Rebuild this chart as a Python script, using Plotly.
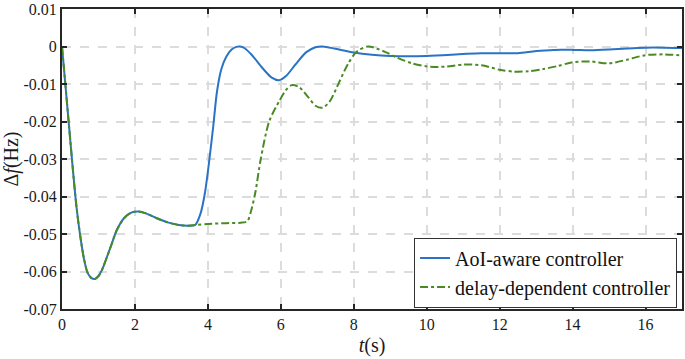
import plotly.graph_objects as go

# AoI-aware controller
t_aoi = [0, 0.1, 0.2, 0.3, 0.4, 0.5, 0.6, 0.7, 0.8, 0.9, 1.0, 1.1, 1.2, 1.35, 1.5, 1.7, 1.9, 2.1,
         2.3, 2.6, 2.9, 3.2, 3.45, 3.65, 3.8, 3.92, 4.03, 4.15, 4.25, 4.37, 4.5, 4.65, 4.78, 4.88,
         5.0, 5.2, 5.5, 5.75, 5.95, 6.15, 6.4, 6.7, 6.95, 7.15, 7.5, 8.0, 8.5, 9.0, 10.0, 11.0,
         11.5, 12.0, 12.5, 13.0, 13.5, 14.0, 14.5, 15.0, 15.5, 16.0, 16.5, 17.0]
f_aoi = [0, -0.011, -0.022, -0.033, -0.043, -0.0505, -0.0565, -0.0603, -0.0617, -0.062, -0.0612,
         -0.0595, -0.057, -0.053, -0.049, -0.0458, -0.0443, -0.044, -0.0445, -0.0458, -0.0469,
         -0.0476, -0.0478, -0.0476, -0.0445, -0.039, -0.031, -0.021, -0.012, -0.006, -0.0028,
         -0.0008, -0.0001, 0.0, -0.0004, -0.0022, -0.0058, -0.0083, -0.009, -0.0078, -0.0048,
         -0.0015, -0.0002, 0.0, -0.0006, -0.0016, -0.0022, -0.0025, -0.0025, -0.002, -0.0018,
         -0.0018, -0.0018, -0.0012, -0.0009, -0.0009, -0.001, -0.0008, -0.0005, -0.0003, -0.0003,
         -0.0004]

# delay-dependent controller
t_dd = [0, 0.1, 0.2, 0.3, 0.4, 0.5, 0.6, 0.7, 0.8, 0.9, 1.0, 1.1, 1.2, 1.35, 1.5, 1.7, 1.9, 2.1,
        2.3, 2.6, 2.9, 3.2, 3.45, 3.65, 4.0, 4.5, 4.9, 5.08, 5.18, 5.3, 5.45, 5.68, 5.96, 6.15,
        6.3, 6.5, 6.75, 6.95, 7.15, 7.35, 7.6, 7.85, 8.1, 8.4, 8.8, 9.2, 9.6, 10.0, 10.5, 11.0,
        11.5, 12.0, 12.4, 12.8, 13.2, 13.6, 14.0, 14.5, 15.0, 15.5, 16.0, 16.5, 17.0]
f_dd = [0, -0.011, -0.022, -0.033, -0.043, -0.0505, -0.0565, -0.0603, -0.0617, -0.062, -0.0612,
        -0.0595, -0.057, -0.053, -0.049, -0.0458, -0.0443, -0.044, -0.0445, -0.0458, -0.0469,
        -0.0476, -0.0478, -0.0476, -0.0473, -0.0471, -0.047, -0.0466, -0.044, -0.039, -0.030,
        -0.020, -0.0145, -0.0115, -0.0103, -0.0108, -0.0135, -0.0158, -0.0163, -0.0145, -0.0095,
        -0.0045, -0.0012, 0.0, -0.0012, -0.003, -0.0045, -0.0053, -0.0054, -0.0048, -0.005,
        -0.0062, -0.0067, -0.0066, -0.006, -0.0052, -0.0042, -0.004, -0.0045, -0.0035, -0.0023,
        -0.0021, -0.0024]

x_ticks = [0, 2, 4, 6, 8, 10, 12, 14, 16]
y_ticks = [0.01, 0, -0.01, -0.02, -0.03, -0.04, -0.05, -0.06, -0.07]
y_ticktext = ["0.01", "0", "-0.01", "-0.02", "-0.03", "-0.04", "-0.05", "-0.06", "-0.07"]

font_family = "Times New Roman, Liberation Serif, serif"

fig = go.Figure()
fig.add_trace(go.Scatter(x=t_aoi, y=f_aoi, mode="lines", name="AoI-aware controller",
                         line=dict(color="#2b73c4", width=2, shape="spline", smoothing=0.8)))
fig.add_trace(go.Scatter(x=t_dd, y=f_dd, mode="lines", name="delay-dependent controller",
                         line=dict(color="#4a8a24", width=2, dash="8px,3px,3px,3px",
                                   shape="spline", smoothing=0.8)))

axis_common = dict(showline=True, linecolor="#262626", linewidth=2, mirror="ticks",
                   ticks="inside", ticklen=5, tickwidth=2, tickcolor="#262626",
                   showgrid=True, gridcolor="#dcdcdc", griddash="dash", gridwidth=1.5,
                   zeroline=False, tickfont=dict(family=font_family, size=16, color="#1a1a1a"))

fig.update_xaxes(range=[0, 17], tickvals=x_ticks,
                 title=dict(text="<i>t</i>(s)", font=dict(family=font_family, size=20, color="#1a1a1a"),
                            standoff=6),
                 **axis_common)
fig.update_yaxes(range=[-0.07, 0.01], tickvals=y_ticks, ticktext=y_ticktext,
                 title=dict(text="Δ<i>f</i>(Hz)", font=dict(family=font_family, size=20, color="#1a1a1a"),
                            standoff=4),
                 ticklabeloverflow="allow",
                 **axis_common)

fig.update_layout(
    width=685, height=359,
    margin=dict(l=62, r=1, t=5, b=50),
    paper_bgcolor="white", plot_bgcolor="white",
    font=dict(family=font_family, color="#1a1a1a"),
    showlegend=True,
    legend=dict(x=0.992, y=0.005, xanchor="right", yanchor="bottom",
                bgcolor="white", bordercolor="#333", borderwidth=1,
                font=dict(family=font_family, size=20, color="#111"),
                itemwidth=30, tracegroupgap=0),
)

fig.write_html("out.html", config={"displayModeBar": False},
               post_script="document.body.style.margin='0';")
